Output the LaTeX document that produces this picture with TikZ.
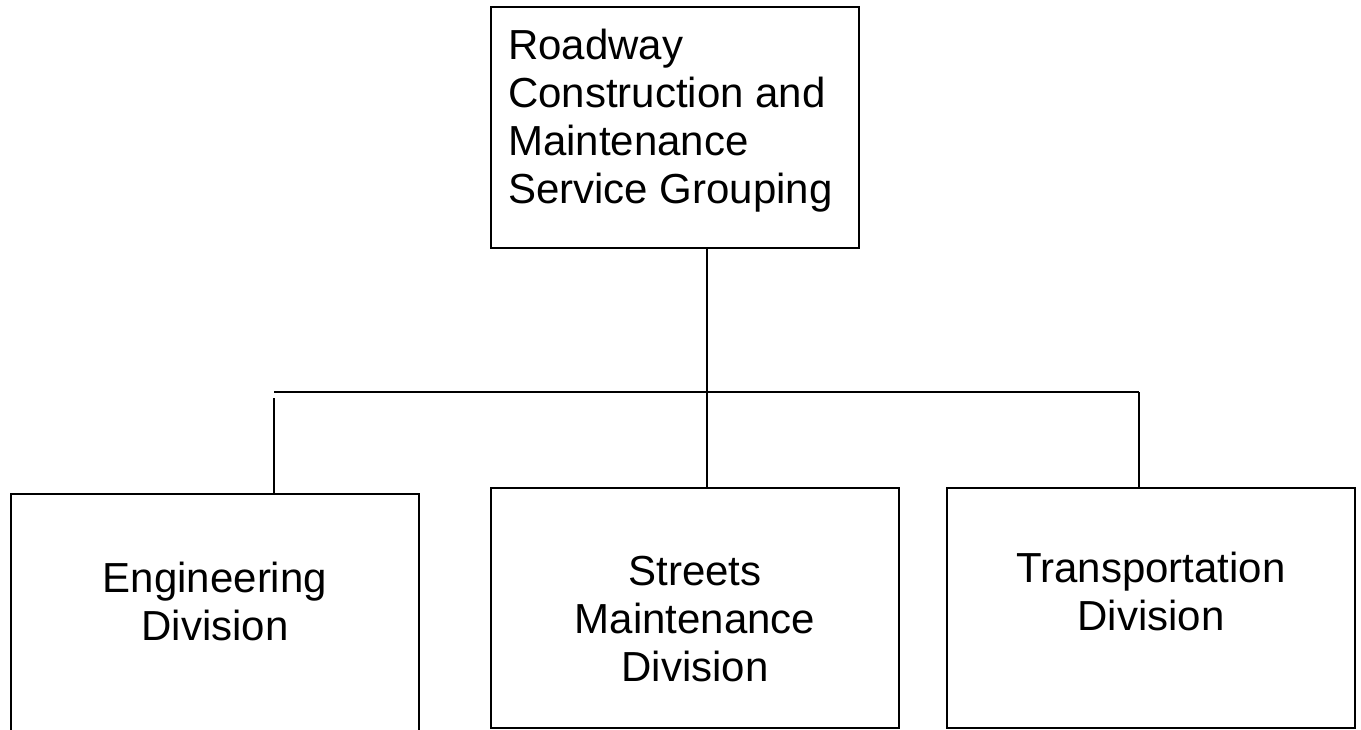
\documentclass[tikz,border=0pt]{standalone}
\usepackage{fontspec}
\setmainfont{Liberation Sans}
\begin{document}
\begin{tikzpicture}[x=1pt,y=-1pt,
  unitbox/.style={draw=black, line width=2.2pt, inner sep=0pt, rectangle},
  conn/.style={draw=black, line width=2.2pt},
  lbl/.style={inner sep=0pt, font=\fontsize{42}{48}\selectfont}]
\useasboundingbox (0,0) rectangle (1361,729);
\fill[white] (0,0) rectangle (1361,729);

% organisation boxes
\node[unitbox, minimum width=368pt, minimum height=241pt] (top) at (675,127.5) {};
\node[unitbox, minimum width=408pt, minimum height=266pt] (eng) at (215,627) {};
\node[unitbox, minimum width=408pt, minimum height=240pt] (streets) at (695,608) {};
\node[unitbox, minimum width=408pt, minimum height=240pt] (trans) at (1151,608) {};

% box texts (anchored on the baseline of the last line)
\node[lbl, anchor=base west, align=left] (toptext) at (508,203)
  {Roadway\\Construction and\\Maintenance\\Service Grouping};
\node[lbl, anchor=base, align=center] (engtext) at (215,640) {Engineering\\Division};
\node[lbl, anchor=base, align=center] (streetstext) at (695,681) {Streets\\Maintenance\\Division};
\node[lbl, anchor=base, align=center] (transtext) at (1151,630) {Transportation\\Division};

% connector points
\coordinate (trunk) at (707,392);
\coordinate (barL) at (274,392);
\coordinate (barR) at (1139,392);
\coordinate (engdrop) at (274,398);

% connectors
\draw[conn] (top.south -| trunk) -- (trunk |- streets.north);
\draw[conn] (barL) -- (barR);
\draw[conn] (engdrop) -- (engdrop |- eng.north);
\draw[conn] (barR) -- (barR |- trans.north);
\end{tikzpicture}
\end{document}
